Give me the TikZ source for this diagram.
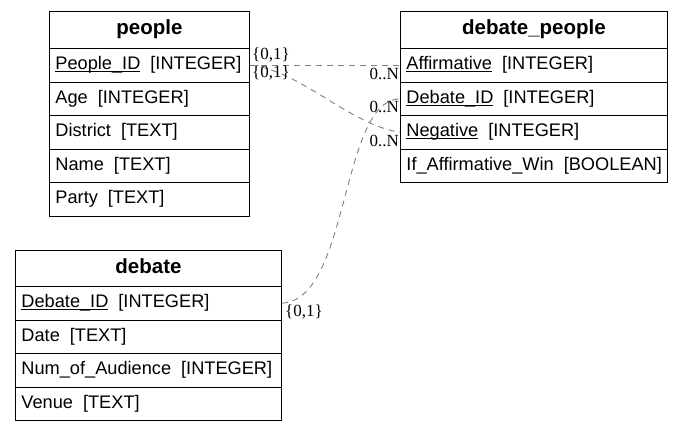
\documentclass[tikz,border=0pt]{standalone}
\usepackage{fontspec}
\setmainfont{Liberation Sans}
\newfontfamily\lblfont{Liberation Serif}
\newcommand{\gp}{\hspace{10pt}}
\newcommand{\ukey}[1]{\setbox0\hbox{#1}\rlap{\rule[-2.2pt]{\wd0}{0.9pt}}\box0}
\tikzset{
  rowbox/.style={draw=black, line width=0.9pt, anchor=north west, minimum height=33.5pt, inner xsep=6pt, inner ysep=0pt, align=left, text height=13pt, text depth=4pt, font=\fontsize{18.2}{20}\selectfont},
  titlebox/.style={draw=black, line width=0.9pt, anchor=north west, minimum height=37pt, inner sep=0pt, align=center, text height=14pt, text depth=4pt, font=\fontsize{20.5}{24}\selectfont\bfseries},
  rel/.style={draw=black!50, line width=0.9pt, dash pattern=on 6pt off 5pt},
  card/.style={font=\lblfont\fontsize{17}{18}\selectfont, inner sep=0pt, text=black}
}
\begin{document}
\begin{tikzpicture}[x=1pt,y=-1pt]
\useasboundingbox (0,0) rectangle (689,431);
% people
\node[titlebox, minimum width=200pt] (pt) at (49,11) {people};
\node[rowbox, minimum width=200pt, text width=188pt] (p1) at (49,48) {\mbox{\ukey{People\_ID}\gp[INTEGER]}};
\node[rowbox, minimum width=200pt, text width=188pt] (p2) at (49,81.5) {\mbox{Age\gp[INTEGER]}};
\node[rowbox, minimum width=200pt, text width=188pt] (p3) at (49,115) {\mbox{District\gp[TEXT]}};
\node[rowbox, minimum width=200pt, text width=188pt] (p4) at (49,148.5) {\mbox{Name\gp[TEXT]}};
\node[rowbox, minimum width=200pt, text width=188pt] (p5) at (49,182) {\mbox{Party\gp[TEXT]}};
% debate_people
\node[titlebox, minimum width=267pt] (dt) at (400,11) {debate\_people};
\node[rowbox, minimum width=267pt, text width=255pt] (d1) at (400,48) {\mbox{\ukey{Affirmative}\gp[INTEGER]}};
\node[rowbox, minimum width=267pt, text width=255pt] (d2) at (400,81.5) {\mbox{\ukey{Debate\_ID}\gp[INTEGER]}};
\node[rowbox, minimum width=267pt, text width=255pt] (d3) at (400,115) {\mbox{\ukey{Negative}\gp[INTEGER]}};
\node[rowbox, minimum width=267pt, text width=255pt] (d4) at (400,148.5) {\mbox{If\_Affirmative\_Win\gp[BOOLEAN]}};
% debate
\node[titlebox, minimum width=266pt, minimum height=36pt] (bt) at (15,250) {debate};
\node[rowbox, minimum width=266pt, text width=254pt] (b1) at (15,286) {\mbox{\ukey{Debate\_ID}\gp[INTEGER]}};
\node[rowbox, minimum width=266pt, text width=254pt] (b2) at (15,319.5) {\mbox{Date\gp[TEXT]}};
\node[rowbox, minimum width=266pt, text width=254pt] (b3) at (15,353) {\mbox{Num\_of\_Audience\gp[INTEGER]}};
\node[rowbox, minimum width=266pt, text width=254pt] (b4) at (15,386.5) {\mbox{Venue\gp[TEXT]}};
% relations
\draw[rel] (p1.east) -- (d1.west);
\draw[rel] (p1.east) .. controls (300,70) and (350,125) .. (d3.west);
\draw[rel] (b1.east) .. controls (350,300) and (340,100) .. (d2.west);
% cardinalities
\node[card, anchor=west] (c1) at (252,55) {\{0,1\}};
\node[card, anchor=west] (c2) at (252,73) {\{0,1\}};
\node[card, anchor=west] (c3) at (285,312) {\{0,1\}};
\node[card, anchor=east] (n1) at (399,74) {0..N};
\node[card, anchor=east] (n2) at (399,107) {0..N};
\node[card, anchor=east] (n3) at (399,141) {0..N};
\end{tikzpicture}
\end{document}
